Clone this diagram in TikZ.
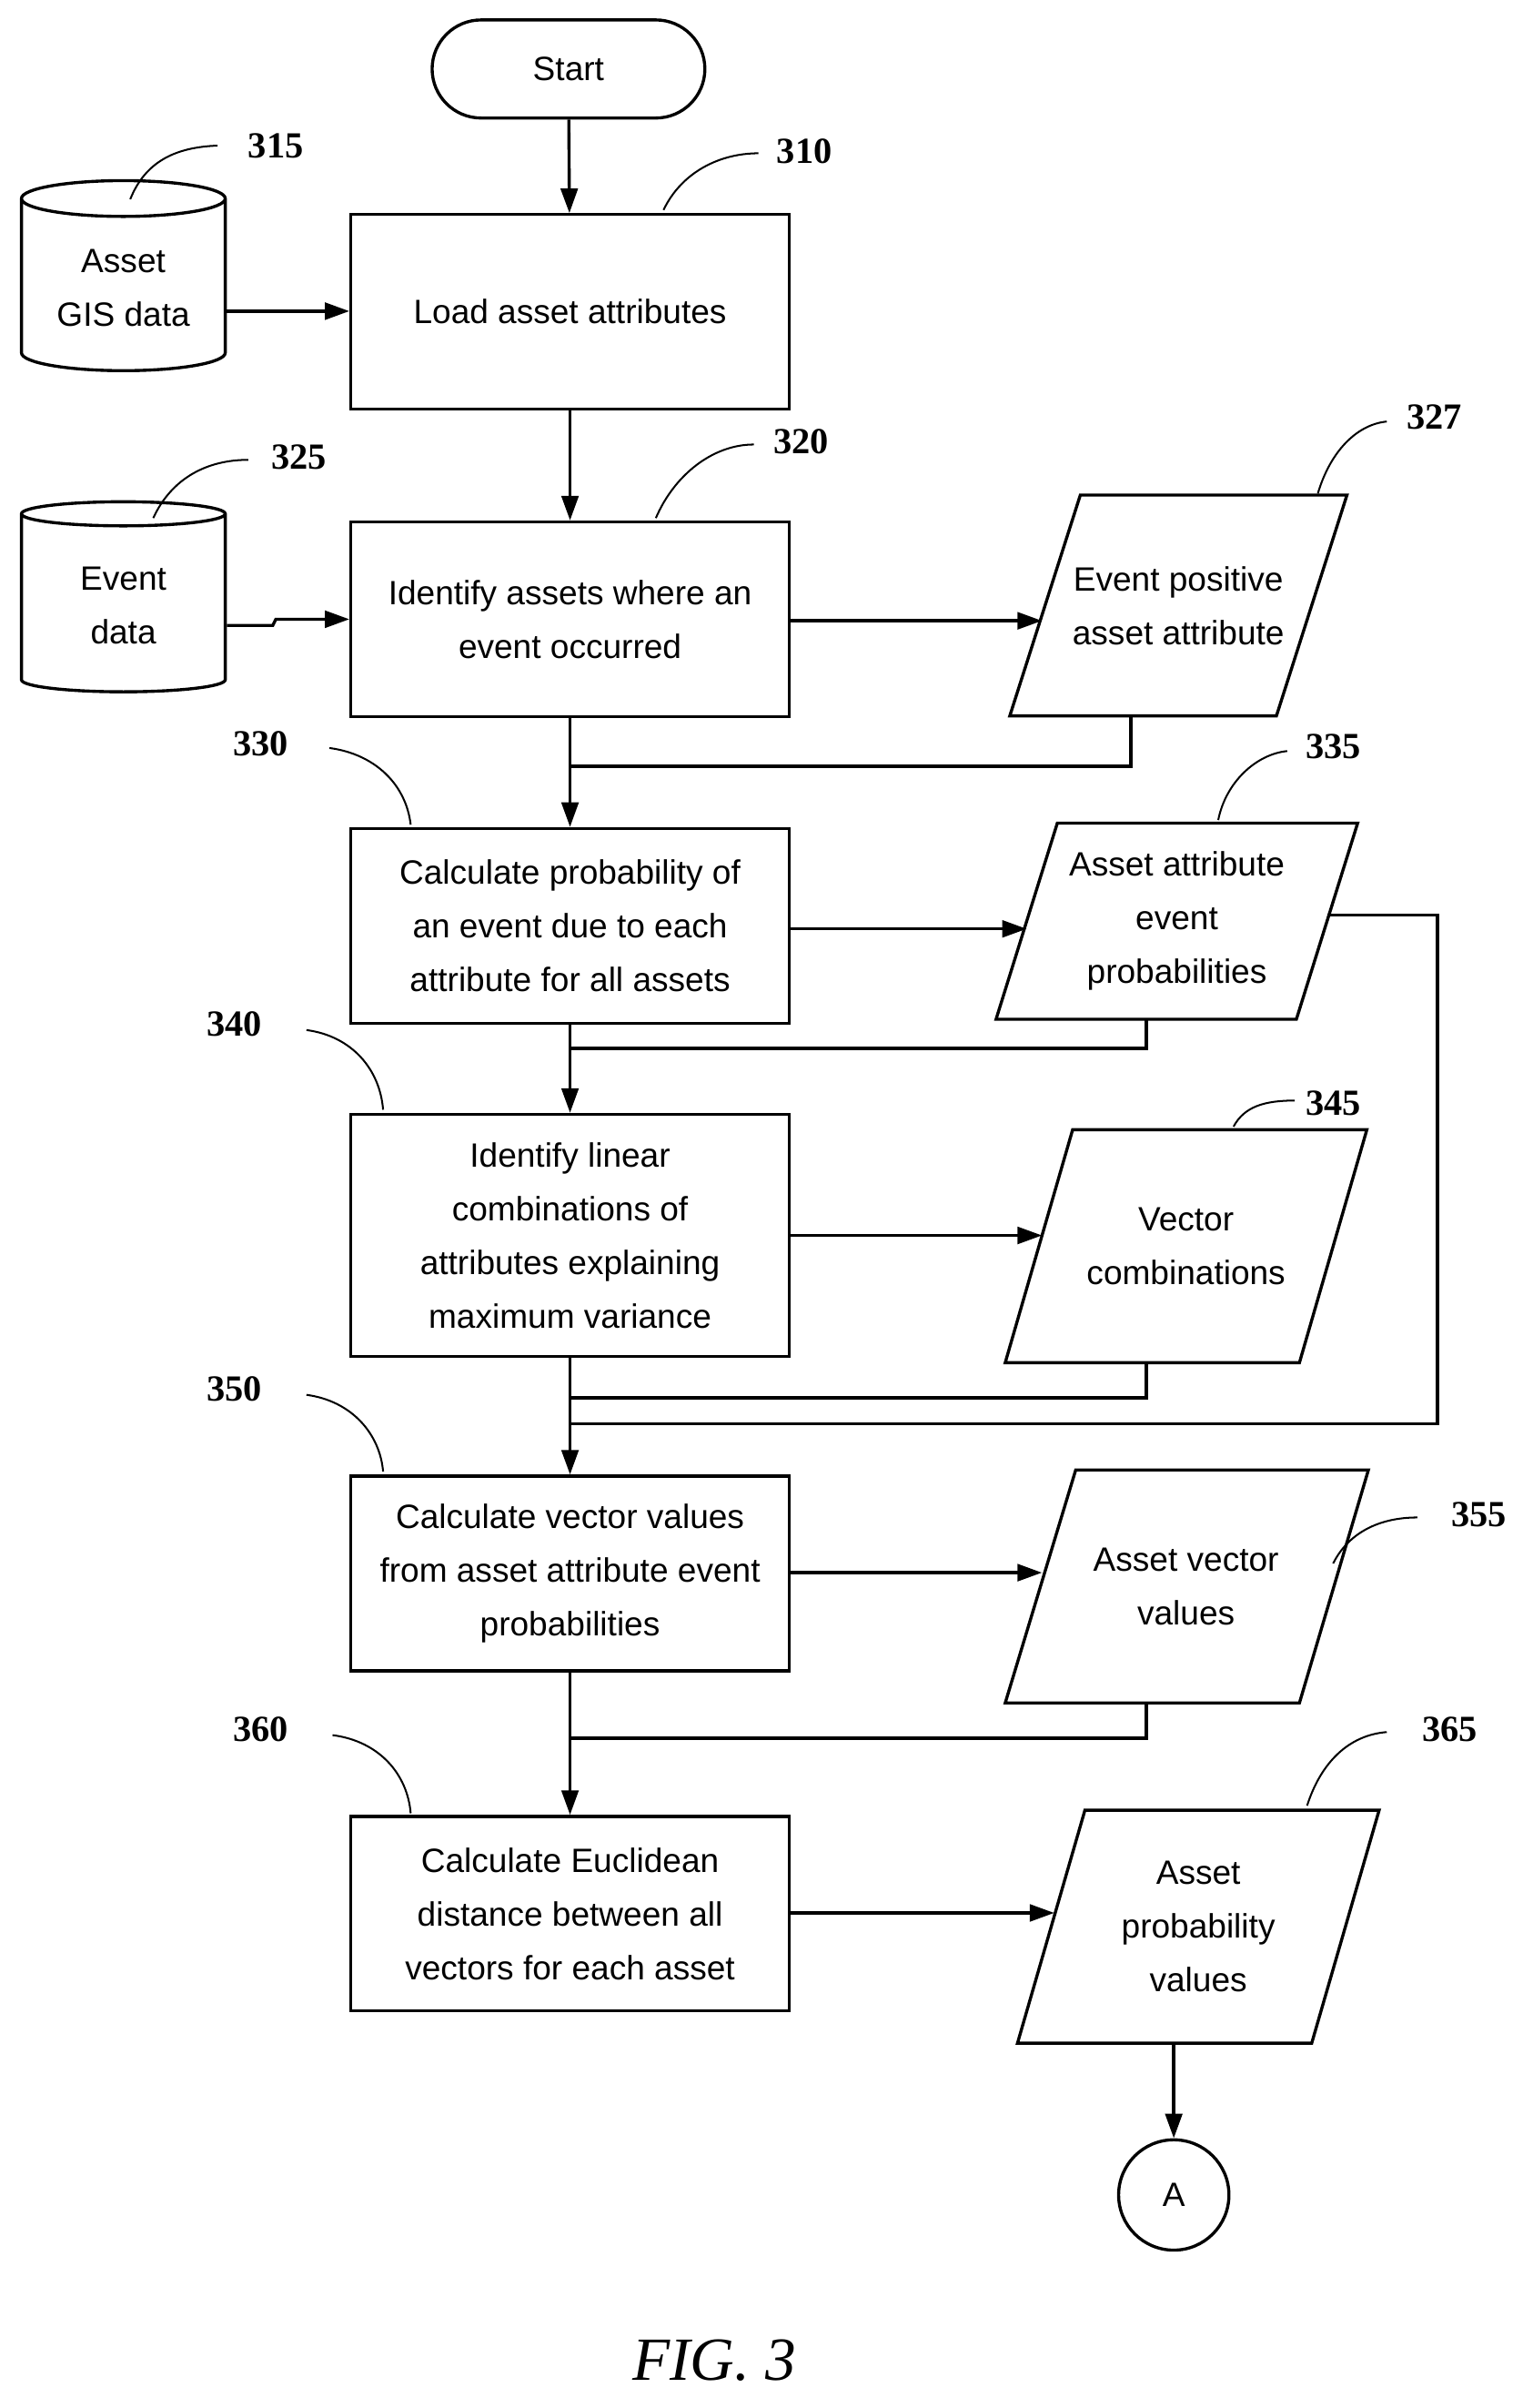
\documentclass[tikz,border=0pt]{standalone}
\usepackage{fontspec}
\setmainfont{Liberation Sans}
\newfontfamily\lblfont{Liberation Serif}
\usetikzlibrary{shapes.geometric,arrows.meta}
\begin{document}
\begin{tikzpicture}[x=1pt,y=-1pt,
  line width=2pt,
  txt/.style={font=\fontsize{22}{35}\selectfont,align=center},
  box/.style={draw,txt,minimum width=286pt,minimum height=127pt,inner sep=2pt},
  arr/.style={-{Triangle[length=16pt,width=11pt]}},
  lbl/.style={font=\lblfont\bfseries\fontsize{24}{28}\selectfont},
  lead/.style={line width=1.2pt},
  cyl/.style={draw,cylinder,shape border rotate=90,aspect=0.25,minimum width=133pt,minimum height=124pt,txt}]
\useasboundingbox (0,0) rectangle (1000,1571);
\node[draw,rounded corners=32pt,minimum width=178pt,minimum height=64pt,txt] (start) at (371,45) {Start};
\node[box] (b310) at (372,203.5) {Load asset attributes};
\node[box] (b320) at (372,404) {Identify assets where an\\event occurred};
\node[box] (b330) at (372,604) {Calculate probability of\\an event due to each\\attribute for all assets};
\node[box,minimum height=158pt] (b340) at (372,806) {Identify linear\\combinations of\\attributes explaining\\maximum variance};
\node[box] (b350) at (372,1026.5) {Calculate vector values\\from asset attribute event\\probabilities};
\node[box] (b360) at (372,1248.5) {Calculate Euclidean\\distance between all\\vectors for each asset};
\node[cyl] (c315) at (80.5,188) {Asset\\GIS data};
\node[cyl] (c325) at (80.5,395) {Event\\data};
% parallelograms
\draw (705,323) coordinate (p327a) -- (879,323) -- (833,467) -- (659,467) -- cycle;
\node[txt] (p327) at (769,395) {Event positive\\asset attribute};
\draw (690,537) -- (886,537) -- (846,665) -- (650,665) -- cycle;
\node[txt] (p335) at (768,601) {Asset attribute\\event\\probabilities};
\draw (700,737) -- (892,737) -- (848,889) -- (656,889) -- cycle;
\node[txt] (p345) at (774,813) {Vector\\combinations};
\draw (702,959) -- (893,959) -- (848,1111) -- (656,1111) -- cycle;
\node[txt] (p355) at (774,1035) {Asset vector\\values};
\draw (708,1181) -- (900,1181) -- (856,1333) -- (664,1333) -- cycle;
\node[txt] (p365) at (782,1257) {Asset\\probability\\values};
\node[draw,circle,minimum size=72pt,txt] (A) at (766,1432) {A};
\node[font=\lblfont\itshape\fontsize{40}{44}\selectfont] (fig) at (466,1540) {FIG. 3};
% coordinates
\coordinate (e327) at (680,405); \coordinate (o327) at (738,467);
\coordinate (e335) at (670,606); \coordinate (o335) at (748,665); \coordinate (r335) at (866,597);
\coordinate (e345) at (680,806); \coordinate (o345) at (748,889);
\coordinate (e355) at (680,1026); \coordinate (o355) at (748,1111);
\coordinate (e365) at (688,1248); \coordinate (o365) at (766,1333);
% connectors
\draw[arr] (start) -- (b310);
\draw[arr] (b310) -- (b320);
\draw[arr] (b320) -- (b330);
\draw[arr] (b330) -- (b340);
\draw[arr] (b340) -- (b350);
\draw[arr] (b350) -- (b360);
\draw[arr] (c315.east |- 0,203) -- (b310.west |- 0,203);
\draw[arr] (c325.east |- 0,408) -- (178,408) -- (180,404) -- (b320.west |- 0,404);
\draw[arr] (b320.east |- e327) -- (e327);
\draw[arr] (b330.east |- e335) -- (e335);
\draw[arr] (b340.east |- e345) -- (e345);
\draw[arr] (b350.east |- e355) -- (e355);
\draw[arr] (b360.east |- e365) -- (e365);
\draw (o327) -- (738,500) -- (372,500);
\draw (o335) -- (748,684) -- (372,684);
\draw (r335) -- (938,597) -- (938,929) -- (372,929);
\draw (o345) -- (748,912) -- (372,912);
\draw (o355) -- (748,1134) -- (372,1134);
\draw[arr] (o365) -- (A);
% labels
\node[lbl] (l315) at (180,95) {315}; \draw[lead] (85,130) .. controls (95,105) and (115,96) .. (142,95);
\node[lbl] (l310) at (525,99) {310}; \draw[lead] (433,137) .. controls (445,112) and (470,100) .. (495,100);
\node[lbl] (l320) at (523,288) {320}; \draw[lead] (428,338) .. controls (440,310) and (465,290) .. (492,290);
\node[lbl] (l325) at (195,298) {325}; \draw[lead] (100,338) .. controls (112,312) and (135,300) .. (162,300);
\node[lbl] (l327) at (936,272) {327}; \draw[lead] (860,322) .. controls (868,295) and (885,277) .. (905,275);
\node[lbl] (l330) at (170,485) {330}; \draw[lead] (215,488) .. controls (245,492) and (265,512) .. (268,538);
\node[lbl] (l335) at (870,487) {335}; \draw[lead] (795,535) .. controls (800,510) and (820,492) .. (840,490);
\node[lbl] (l340) at (153,668) {340}; \draw[lead] (200,672) .. controls (230,676) and (248,698) .. (250,724);
\node[lbl] (l345) at (870,720) {345}; \draw[lead] (805,735) .. controls (812,722) and (825,718) .. (845,718);
\node[lbl] (l350) at (153,906) {350}; \draw[lead] (200,910) .. controls (230,914) and (248,936) .. (250,960);
\node[lbl] (l355) at (965,988) {355}; \draw[lead] (870,1020) .. controls (880,1000) and (900,990) .. (925,990);
\node[lbl] (l360) at (170,1128) {360}; \draw[lead] (217,1132) .. controls (248,1136) and (266,1158) .. (268,1183);
\node[lbl] (l365) at (946,1128) {365}; \draw[lead] (853,1178) .. controls (862,1150) and (880,1132) .. (905,1130);
\end{tikzpicture}
\end{document}
